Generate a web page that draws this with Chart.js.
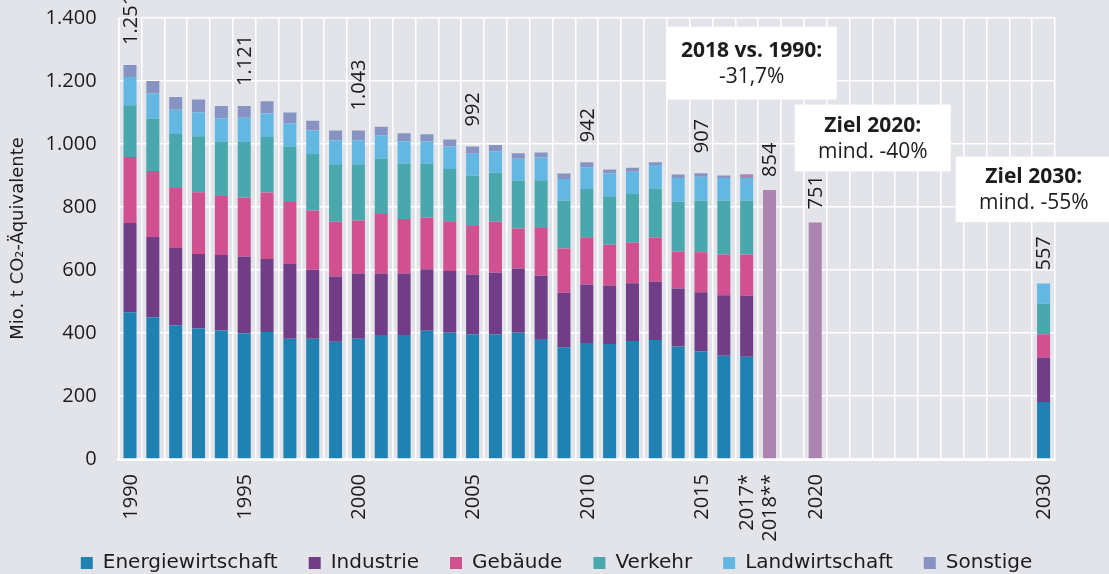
<!DOCTYPE html>
<html>
<head>
<meta charset="utf-8">
<script src="https://cdn.jsdelivr.net/npm/chart.js@4.4.0/dist/chart.umd.min.js"></script>
<style>
  html, body { margin: 0; padding: 0; background: #e3e4ea; }
</style>
</head>
<body>
<canvas id="chart" width="1109" height="574"></canvas>
<script>
// Treibhausgas-Emissionen Deutschland nach Sektoren (Mio. t CO2-Aequivalente)
const years = ['1990','1991','1992','1993','1994','1995','1996','1997','1998','1999',
  '2000','2001','2002','2003','2004','2005','2006','2007','2008','2009',
  '2010','2011','2012','2013','2014','2015','2016','2017','2018','2019',
  '2020','2021','2022','2023','2024','2025','2026','2027','2028','2029','2030'];

// 1990 - 2017
const energie        = [466,450,425,414,408,399,403,382,382,372,382,394,394,407,401,396,396,401,381,355,368,365,375,378,357,341,328,325];
const industrie      = [283,255,245,237,240,243,232,237,219,207,207,195,195,195,196,190,195,204,201,173,186,186,183,185,184,188,192,193];
const gebaeude       = [210,209,190,196,187,188,211,197,188,174,168,189,173,165,158,154,162,127,151,140,150,129,129,140,118,127,129,131];
const verkehr        = [164,166,172,178,173,176,176,176,179,183,179,176,175,170,166,159,156,151,152,152,153,154,154,156,158,164,171,171];
const landwirtschaft = [ 90, 80, 77, 76, 74, 77, 76, 74, 75, 75, 75, 74, 72, 71, 71, 70, 68, 70, 72, 69, 69, 72, 71, 74, 75, 76, 72, 72];
const sonstige       = [ 38, 40, 40, 40, 39, 38, 38, 34, 31, 32, 32, 27, 25, 23, 22, 23, 20, 18, 16, 17, 16, 13, 13,  9, 11, 11,  8, 12];

// Ziel 2030 nach Sektoren: Energie, Industrie, Gebaeude, Verkehr, Landwirtschaft
const ziel2030 = [181, 141, 74, 97, 64];

// Gesamtwerte ohne Sektoraufteilung
const gesamtYears  = ['2018', '2020'];
const gesamtValues = [854, 751];

// Beschriftete Summen
const labelYears  = ['1990','1995','2000','2005','2010','2015','2018','2020','2030'];
const labelValues = [1251, 1121, 1043, 992, 942, 907, 854, 751, 557];

// Achsenbeschriftung
const tickYears = ['1990','1995','2000','2005','2010','2015','2017','2018','2020','2030'];
const tickNames = ['1990','1995','2000','2005','2010','2015','2017*','2018**','2020','2030'];

const NUMFONT = '"Open Sans", sans-serif';
const TXTFONT = '"DejaVu Sans", sans-serif';
const TXT = '#1c1c1c';
const MAUVE = '#ab85b0';

function fmt(v) {
  return String(v).replace(/\B(?=(\d{3})+(?!\d))/g, '.');
}

function series(hist, goal) {
  return years.map(function (yr, i) {
    if (i < hist.length) return hist[i];
    if (yr === '2030') return goal;
    return null;
  });
}

const gesamt = years.map(function (yr) {
  const k = gesamtYears.indexOf(yr);
  return k >= 0 ? gesamtValues[k] : null;
});

// Legende mittig unter das ganze Bild
const layoutFix = {
  id: 'layoutFix',
  afterLayout(chart) {
    const shift = 25;
    chart.legend.left += shift;
    chart.legend.right += shift;
  }
};

// senkrechte Jahreszahlen unter der x-Achse
const yearTicks = {
  id: 'yearTicks',
  afterDraw(chart) {
    const ctx = chart.ctx, x = chart.scales.x;
    ctx.save();
    ctx.font = '20px ' + NUMFONT;
    ctx.fillStyle = TXT;
    ctx.textAlign = 'right';
    ctx.textBaseline = 'middle';
    tickYears.forEach(function (yr, i) {
      const px = x.getPixelForValue(years.indexOf(yr));
      ctx.save();
      ctx.translate(px + 1, chart.chartArea.bottom + 15);
      ctx.rotate(-Math.PI / 2);
      ctx.fillText(tickNames[i], 0, 0);
      ctx.restore();
    });
    ctx.restore();
  }
};

const valueLabels = {
  id: 'valueLabels',
  afterDatasetsDraw(chart) {
    const ctx = chart.ctx, x = chart.scales.x, y = chart.scales.y;
    ctx.save();
    ctx.font = '20px ' + NUMFONT;
    ctx.fillStyle = TXT;
    ctx.textAlign = 'left';
    ctx.textBaseline = 'middle';
    labelYears.forEach(function (yr, i) {
      const px = x.getPixelForValue(years.indexOf(yr));
      const gap = Number(yr) <= 2015 ? 20 : 13;
      const py = y.getPixelForValue(labelValues[i]) - gap;
      ctx.save();
      ctx.translate(px + 1, py);
      ctx.rotate(-Math.PI / 2);
      ctx.fillText(fmt(labelValues[i]), 0, 0);
      ctx.restore();
    });
    ctx.restore();
  }
};

// Hinweisboxen: Position ueber Kategorie-Index und Wertachse
const notes = [
  { lines: ['2018 vs. 1990:', '-31,7%'], at: 27.22, top: 1372, bottom: 1141, w: 170 },
  { lines: ['Ziel 2020:', 'mind. -40%'], at: 32.52, top: 1125, bottom: 913, w: 156 },
  { lines: ['Ziel 2030:', 'mind. -55%'], at: 39.57, top: 960, bottom: 752, w: 156 }
];

const noteBoxes = {
  id: 'noteBoxes',
  afterDraw(chart) {
    const ctx = chart.ctx, x = chart.scales.x, y = chart.scales.y;
    ctx.save();
    notes.forEach(function (n) {
      const cx = x.getPixelForValue(n.at);
      const t = y.getPixelForValue(n.top), b = y.getPixelForValue(n.bottom);
      ctx.fillStyle = '#ffffff';
      ctx.fillRect(cx - n.w / 2, t, n.w, b - t);
      ctx.fillStyle = TXT;
      ctx.textAlign = 'center';
      ctx.textBaseline = 'middle';
      const mid = (t + b) / 2;
      ctx.font = 'bold 21px ' + NUMFONT;
      ctx.fillText(n.lines[0], cx, mid - 12);
      ctx.font = '21px ' + NUMFONT;
      ctx.fillText(n.lines[1], cx, mid + 14);
    });
    ctx.restore();
  }
};

new Chart(document.getElementById('chart'), {
  type: 'bar',
  data: {
    labels: years,
    datasets: [
      { label: 'Energiewirtschaft', data: series(energie, ziel2030[0]), backgroundColor: '#1f82b3' },
      { label: 'Industrie', data: series(industrie, ziel2030[1]), backgroundColor: '#723d87' },
      { label: 'Gebäude', data: series(gebaeude, ziel2030[2]), backgroundColor: '#d15190' },
      { label: 'Verkehr', data: series(verkehr, ziel2030[3]), backgroundColor: '#49a8ad' },
      { label: 'Landwirtschaft', data: series(landwirtschaft, ziel2030[4]), backgroundColor: '#63b8e3' },
      { label: 'Sonstige', data: series(sonstige, null),
        backgroundColor: years.map(function (yr) { return yr === '2017' ? MAUVE : '#8793c2'; }) },
      { label: 'Gesamt', data: gesamt, backgroundColor: MAUVE }
    ]
  },
  options: {
    responsive: false,
    animation: false,
    devicePixelRatio: 1,
    categoryPercentage: 1,
    barPercentage: 0.57,
    layout: { padding: { left: 8, right: 54, top: 0, bottom: -9 } },
    plugins: {
      tooltip: { enabled: false },
      legend: {
        position: 'bottom',
        labels: {
          filter: function (item) { return item.text !== 'Gesamt'; },
          font: { family: TXTFONT, size: 20 },
          color: TXT,
          boxWidth: 12,
          boxHeight: 12,
          padding: 31
        }
      }
    },
    scales: {
      x: {
        stacked: true,
        afterFit: function (scale) { scale.height = 63; },
        grid: { color: '#ffffff', lineWidth: 1.5, drawTicks: false },
        border: { color: '#ffffff', width: 3 },
        ticks: { display: false }
      },
      y: {
        stacked: true,
        min: 0,
        max: 1400,
        grid: { color: '#ffffff', lineWidth: 1.5, drawTicks: true, tickLength: 16, tickColor: 'rgba(0,0,0,0)' },
        border: { color: '#ffffff', width: 1.5 },
        ticks: {
          stepSize: 200,
          padding: 6,
          color: TXT,
          font: { family: NUMFONT, size: 20 },
          callback: function (v) { return fmt(v); }
        },
        title: {
          display: true,
          text: 'Mio. t CO₂-Äquivalente',
          color: TXT,
          font: { family: TXTFONT, size: 18 },
          padding: { top: 0, bottom: 10 }
        }
      }
    }
  },
  plugins: [layoutFix, yearTicks, valueLabels, noteBoxes]
});
</script>
</body>
</html>
